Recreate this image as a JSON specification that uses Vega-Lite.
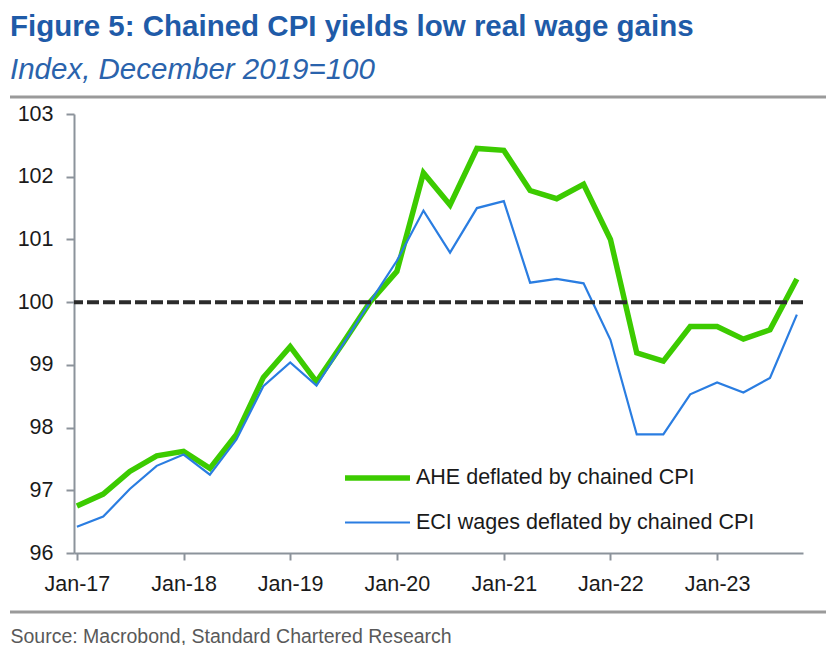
{
  "$schema": "https://vega.github.io/schema/vega-lite/v6.json",
  "width": 729,
  "height": 439,
  "autosize": {"type": "none"},
  "padding": {"left": 74, "top": 114, "right": 33, "bottom": 92},
  "background": "white",
  "title": {
    "text": "Figure 5: Chained CPI yields low real wage gains",
    "subtitle": "Index, December 2019=100",
    "anchor": "start",
    "frame": "group",
    "dx": -64,
    "offset": 10,
    "font": "Liberation Sans",
    "fontSize": 29.5,
    "fontWeight": "bold",
    "color": "#1F5BA8",
    "subtitleFont": "Liberation Sans",
    "subtitleFontSize": 29.5,
    "subtitleFontStyle": "italic",
    "subtitleColor": "#2A63AC",
    "subtitlePadding": 14
  },
  "config": {
    "view": {"stroke": null},
    "font": "Liberation Sans",
    "legend": {"padding": 0}
  },
  "data": {
    "values": [
      {"date": "2017-01-01", "series": "AHE deflated by chained CPI", "value": 96.75},
      {"date": "2017-04-01", "series": "AHE deflated by chained CPI", "value": 96.94},
      {"date": "2017-07-01", "series": "AHE deflated by chained CPI", "value": 97.30},
      {"date": "2017-10-01", "series": "AHE deflated by chained CPI", "value": 97.55},
      {"date": "2018-01-01", "series": "AHE deflated by chained CPI", "value": 97.62},
      {"date": "2018-04-01", "series": "AHE deflated by chained CPI", "value": 97.35},
      {"date": "2018-07-01", "series": "AHE deflated by chained CPI", "value": 97.89},
      {"date": "2018-10-01", "series": "AHE deflated by chained CPI", "value": 98.80},
      {"date": "2019-01-01", "series": "AHE deflated by chained CPI", "value": 99.29},
      {"date": "2019-04-01", "series": "AHE deflated by chained CPI", "value": 98.73},
      {"date": "2019-07-01", "series": "AHE deflated by chained CPI", "value": 99.35},
      {"date": "2019-10-01", "series": "AHE deflated by chained CPI", "value": 100.0},
      {"date": "2020-01-01", "series": "AHE deflated by chained CPI", "value": 100.49},
      {"date": "2020-04-01", "series": "AHE deflated by chained CPI", "value": 102.06},
      {"date": "2020-07-01", "series": "AHE deflated by chained CPI", "value": 101.55},
      {"date": "2020-10-01", "series": "AHE deflated by chained CPI", "value": 102.45},
      {"date": "2021-01-01", "series": "AHE deflated by chained CPI", "value": 102.42},
      {"date": "2021-04-01", "series": "AHE deflated by chained CPI", "value": 101.78},
      {"date": "2021-07-01", "series": "AHE deflated by chained CPI", "value": 101.65},
      {"date": "2021-10-01", "series": "AHE deflated by chained CPI", "value": 101.88},
      {"date": "2022-01-01", "series": "AHE deflated by chained CPI", "value": 101.00},
      {"date": "2022-04-01", "series": "AHE deflated by chained CPI", "value": 99.19},
      {"date": "2022-07-01", "series": "AHE deflated by chained CPI", "value": 99.06},
      {"date": "2022-10-01", "series": "AHE deflated by chained CPI", "value": 99.61},
      {"date": "2023-01-01", "series": "AHE deflated by chained CPI", "value": 99.61},
      {"date": "2023-04-01", "series": "AHE deflated by chained CPI", "value": 99.41},
      {"date": "2023-07-01", "series": "AHE deflated by chained CPI", "value": 99.56},
      {"date": "2023-10-01", "series": "AHE deflated by chained CPI", "value": 100.37},
      {"date": "2017-01-01", "series": "ECI wages deflated by chained CPI", "value": 96.42},
      {"date": "2017-04-01", "series": "ECI wages deflated by chained CPI", "value": 96.58},
      {"date": "2017-07-01", "series": "ECI wages deflated by chained CPI", "value": 97.02},
      {"date": "2017-10-01", "series": "ECI wages deflated by chained CPI", "value": 97.39},
      {"date": "2018-01-01", "series": "ECI wages deflated by chained CPI", "value": 97.57},
      {"date": "2018-04-01", "series": "ECI wages deflated by chained CPI", "value": 97.25},
      {"date": "2018-07-01", "series": "ECI wages deflated by chained CPI", "value": 97.81},
      {"date": "2018-10-01", "series": "ECI wages deflated by chained CPI", "value": 98.66},
      {"date": "2019-01-01", "series": "ECI wages deflated by chained CPI", "value": 99.04},
      {"date": "2019-04-01", "series": "ECI wages deflated by chained CPI", "value": 98.67},
      {"date": "2019-07-01", "series": "ECI wages deflated by chained CPI", "value": 99.33},
      {"date": "2019-10-01", "series": "ECI wages deflated by chained CPI", "value": 100.0},
      {"date": "2020-01-01", "series": "ECI wages deflated by chained CPI", "value": 100.66},
      {"date": "2020-04-01", "series": "ECI wages deflated by chained CPI", "value": 101.46},
      {"date": "2020-07-01", "series": "ECI wages deflated by chained CPI", "value": 100.79},
      {"date": "2020-10-01", "series": "ECI wages deflated by chained CPI", "value": 101.50},
      {"date": "2021-01-01", "series": "ECI wages deflated by chained CPI", "value": 101.61},
      {"date": "2021-04-01", "series": "ECI wages deflated by chained CPI", "value": 100.31},
      {"date": "2021-07-01", "series": "ECI wages deflated by chained CPI", "value": 100.37},
      {"date": "2021-10-01", "series": "ECI wages deflated by chained CPI", "value": 100.30},
      {"date": "2022-01-01", "series": "ECI wages deflated by chained CPI", "value": 99.40},
      {"date": "2022-04-01", "series": "ECI wages deflated by chained CPI", "value": 97.89},
      {"date": "2022-07-01", "series": "ECI wages deflated by chained CPI", "value": 97.89},
      {"date": "2022-10-01", "series": "ECI wages deflated by chained CPI", "value": 98.53},
      {"date": "2023-01-01", "series": "ECI wages deflated by chained CPI", "value": 98.72},
      {"date": "2023-04-01", "series": "ECI wages deflated by chained CPI", "value": 98.56},
      {"date": "2023-07-01", "series": "ECI wages deflated by chained CPI", "value": 98.79},
      {"date": "2023-10-01", "series": "ECI wages deflated by chained CPI", "value": 99.80}
    ]
  },
  "layer": [
    {
      "data": {"values": [{}]},
      "mark": {"type": "rule", "color": "#9a9a9a", "strokeWidth": 3},
      "encoding": {"x": {"value": -64}, "x2": {"value": 752}, "y": {"value": -17}}
    },
    {
      "data": {"values": [{}]},
      "mark": {"type": "rule", "color": "#9a9a9a", "strokeWidth": 3},
      "encoding": {"x": {"value": -64}, "x2": {"value": 752}, "y": {"value": 498}}
    },
    {
      "mark": {"type": "line", "strokeJoin": "miter", "strokeCap": "butt"},
      "encoding": {
        "x": {
          "field": "date",
          "type": "temporal",
          "scale": {
            "type": "utc",
            "domain": [
              {"year": 2016, "month": 12, "date": 22, "utc": true},
              {"year": 2023, "month": 10, "date": 22, "utc": true}
            ]
          },
          "axis": {
            "values": [
              {"year": 2017, "month": 1, "date": 1, "utc": true},
              {"year": 2018, "month": 1, "date": 1, "utc": true},
              {"year": 2019, "month": 1, "date": 1, "utc": true},
              {"year": 2020, "month": 1, "date": 1, "utc": true},
              {"year": 2021, "month": 1, "date": 1, "utc": true},
              {"year": 2022, "month": 1, "date": 1, "utc": true},
              {"year": 2023, "month": 1, "date": 1, "utc": true}
            ],
            "format": "%b-%y",
            "grid": false,
            "labelFont": "Liberation Sans",
            "labelFontSize": 21.5,
            "labelColor": "#1a1a1a",
            "labelPadding": 13,
            "labelFlush": false,
            "labelOverlap": false,
            "tickSize": 7,
            "tickWidth": 2,
            "tickColor": "#8c939b",
            "domainColor": "#8c939b",
            "domainWidth": 2,
            "title": "Source: Macrobond, Standard Chartered Research",
            "titleX": -64,
            "titleY": 83,
            "titleAlign": "left",
            "titleAnchor": "start",
            "titleBaseline": "middle",
            "titleFont": "Liberation Sans",
            "titleFontSize": 19.5,
            "titleFontWeight": "normal",
            "titleColor": "#595959"
          }
        },
        "y": {
          "field": "value",
          "type": "quantitative",
          "scale": {"domain": [96, 103], "nice": false, "zero": false},
          "axis": {
            "values": [96, 97, 98, 99, 100, 101, 102, 103],
            "format": "d",
            "grid": false,
            "title": null,
            "labelFont": "Liberation Sans",
            "labelFontSize": 21.5,
            "labelColor": "#1a1a1a",
            "labelPadding": 13,
            "tickSize": 8,
            "tickWidth": 2,
            "tickColor": "#8c939b",
            "domainColor": "#8c939b",
            "domainWidth": 2
          }
        },
        "color": {
          "field": "series",
          "type": "nominal",
          "scale": {
            "domain": ["AHE deflated by chained CPI", "ECI wages deflated by chained CPI"],
            "range": ["#3CCB00", "#2A7DE1"]
          },
          "legend": {
            "title": null,
            "orient": "none",
            "legendX": 284.5,
            "legendY": 345,
            "symbolType": "M-2,0H2",
            "symbolSize": 1056,
            "labelOffset": 19.5,
            "rowPadding": 16,
            "labelFont": "Liberation Sans",
            "labelFontSize": 21.5,
            "labelColor": "#1a1a1a",
            "labelLimit": 400
          }
        },
        "strokeWidth": {
          "field": "series",
          "type": "nominal",
          "scale": {
            "domain": ["AHE deflated by chained CPI", "ECI wages deflated by chained CPI"],
            "range": [5.5, 2.2]
          },
          "legend": {
            "title": null,
            "orient": "none",
            "legendX": 284.5,
            "legendY": 345,
            "symbolType": "M-2,0H2",
            "symbolSize": 1056,
            "labelOffset": 19.5,
            "rowPadding": 16,
            "labelFont": "Liberation Sans",
            "labelFontSize": 21.5,
            "labelColor": "#1a1a1a",
            "labelLimit": 400
          }
        }
      }
    },
    {
      "data": {"values": [{}]},
      "mark": {"type": "rule", "color": "#2b2b2b", "strokeWidth": 4, "strokeDash": [12, 4]},
      "encoding": {"y": {"datum": 100}}
    }
  ]
}
